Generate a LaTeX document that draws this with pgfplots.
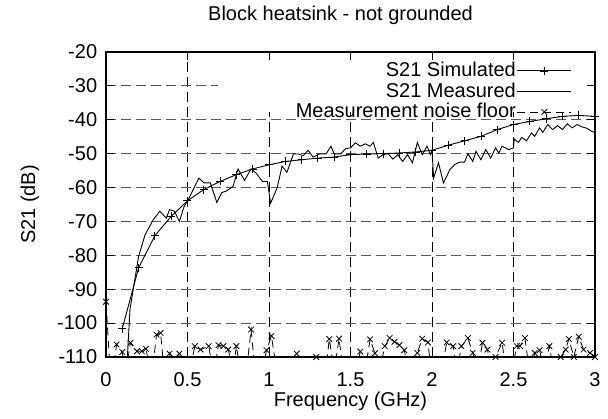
\documentclass[border=0pt]{standalone}
\usepackage{pgfplots}
\pgfplotsset{compat=1.18}
\usepackage{fontspec}
\setmainfont{Liberation Sans}
\begin{document}
\fontsize{20}{23}\selectfont
\begin{tikzpicture}
\begin{axis}[
  scale only axis, width=489pt, height=305pt,
  xmin=0, xmax=3, ymin=-110, ymax=-20,
  xtick={0,0.5,...,3}, ytick={-110,-100,...,-20},
  /pgf/number format/assume math mode=true,
  tick align=inside, major tick length=8pt,
  tick style={black, line width=0.8pt},
  axis line style={line width=1.6pt},
  xticklabel style={yshift=-9pt},
  yticklabel style={xshift=-2pt},
  grid=major,
  xmajorgrids=true, ymajorgrids=true,
  x grid style={black, line width=0.8pt, dash pattern=on 10pt off 5pt},
  y grid style={black!65, line width=0.9pt, dash pattern=on 10pt off 5pt},
  title={Block heatsink - not grounded},
  title style={at={(axis description cs:0.5,1)}, anchor=center, yshift=31pt, xshift=-10pt},
  xlabel={Frequency (GHz)},
  every axis x label/.style={at={(axis description cs:0.5,0)}, anchor=center, yshift=-44pt},
  ylabel={S21 (dB)},
  every axis y label/.style={at={(axis description cs:0,0.5)}, anchor=center, xshift=-76pt, rotate=90},
  clip mode=individual,
  legend style={at={(1,1)}, anchor=north east, xshift=-22pt, yshift=-8pt, fill=none, draw=none,
    inner sep=1pt, nodes={inner sep=1pt}, row sep=1pt},
  legend plot pos=right, legend cell align=right,
  legend image code/.code={\draw[mark repeat=2,mark phase=2,#1] plot coordinates {(0pt,0pt) (27pt,0pt) (54pt,0pt)};},
]
% key background (blanks the grid behind the legend, as gnuplot does)
\addplot[fill=white, draw=none, mark=none, forget plot] coordinates {(0.686,-22.4) (2.951,-22.4) (2.951,-37.6) (0.686,-37.6)};
% Simulated
\addplot[black, line width=0.9pt, mark=+, mark size=4pt, mark options={solid, line width=0.8pt}] coordinates {
(0.1,-101.6) (0.2,-83.7) (0.3,-74.2) (0.4,-68.5) (0.5,-63.9) (0.6,-60.6) (0.7,-58.2)
(0.8,-56.2) (0.9,-54.5) (1.0,-53.3) (1.1,-52.3) (1.2,-51.8) (1.3,-51.3) (1.4,-51.0)
(1.5,-50.3) (1.6,-50.1) (1.7,-50.0) (1.8,-49.8) (1.9,-49.5) (2.0,-49.0) (2.1,-47.5)
(2.2,-46.2) (2.3,-44.9) (2.4,-42.9) (2.5,-41.4) (2.6,-40.5) (2.7,-39.7) (2.8,-39.0)
(2.9,-38.7) (3.0,-39.0)};
\addlegendentry{S21 Simulated}
% Measured
\addplot[black, line width=0.9pt, mark=none] coordinates {
(0.12,-120) (0.147,-96) (0.2,-80.3) (0.24,-73.9) (0.29,-69.5) (0.33,-67) (0.37,-69)
(0.39,-66.5) (0.42,-67) (0.45,-70) (0.48,-65.5) (0.5,-64) (0.57,-57.2) (0.60,-58.6)
(0.64,-58.6) (0.68,-64.4) (0.71,-61.5) (0.74,-61) (0.78,-59.6) (0.81,-54.5) (0.85,-57.9)
(0.89,-54.5) (0.92,-55.7) (0.96,-58.2) (0.99,-58.2) (1.01,-64.6) (1.05,-60.1) (1.08,-53.7)
(1.11,-55.5) (1.15,-50.1) (1.18,-50.1) (1.21,-50.6) (1.24,-49) (1.27,-51) (1.31,-50.1)
(1.35,-50.1) (1.38,-47.8) (1.40,-50.1) (1.44,-50.1) (1.47,-48.5) (1.50,-48.3) (1.53,-46.8)
(1.56,-47.8) (1.59,-47.1) (1.62,-47.8) (1.64,-46.7) (1.67,-51.3) (1.70,-50.3) (1.73,-50)
(1.76,-51.6) (1.79,-50.3) (1.82,-52.3) (1.85,-50.3) (1.88,-52.7) (1.91,-46.7) (1.94,-50.3)
(1.97,-47.8) (1.99,-50.3) (2.00,-49) (2.01,-57.2) (2.04,-52.7) (2.07,-58.6) (2.11,-54.7)
(2.14,-53.2) (2.17,-52.5) (2.20,-52.5) (2.22,-50) (2.25,-52.3) (2.27,-49.3) (2.30,-51.8)
(2.33,-48.8) (2.36,-51.3) (2.39,-48.3) (2.41,-49.8) (2.43,-47.8) (2.47,-48.8) (2.50,-48.3)
(2.505,-45.7) (2.53,-46.7) (2.55,-45.2) (2.58,-46.2) (2.61,-43.9) (2.63,-44.9) (2.66,-42.4)
(2.68,-43.7) (2.71,-41.4) (2.74,-42.9) (2.77,-41.7) (2.80,-42.9) (2.83,-41.2) (2.86,-42.4)
(2.89,-41.4) (2.92,-42.1) (2.95,-42.5) (2.98,-43.4) (3.0,-43.8)};
\addlegendentry{S21 Measured}
% Noise floor
\pgfplotstableread{
x y
0 -93.7
0.03 -118
0.065 -106.3
0.10 -108.5
0.12 -115
0.15 -105.8
0.19 -108.3
0.22 -108.3
0.245 -107.6
0.28 -116
0.31 -103.4
0.335 -102.9
0.36 -116
0.39 -109
0.42 -116
0.45 -109
0.48 -117
0.51 -115
0.545 -106.8
0.58 -107.8
0.63 -106.8
0.66 -115
0.69 -106.5
0.72 -106.8
0.75 -107.8
0.78 -114
0.80 -106.8
0.83 -116
0.86 -115
0.89 -101.9
0.92 -117
0.95 -116
0.985 -108
1.015 -103.8
1.05 -115
1.08 -117
1.11 -116
1.14 -115
1.17 -109
1.20 -116
1.23 -117
1.26 -115
1.29 -110
1.32 -116
1.35 -113
1.37 -104.7
1.40 -114
1.43 -104.6
1.46 -116
1.49 -117
1.53 -115
1.56 -108.4
1.59 -114
1.62 -104.8
1.65 -108.9
1.68 -114
1.71 -106.8
1.74 -104.4
1.77 -105.5
1.80 -106.5
1.83 -108
1.86 -115
1.91 -108.8
1.94 -104.6
1.975 -105.7
2.0 -116
2.03 -117
2.06 -114
2.09 -105.7
2.13 -106.8
2.155 -114
2.18 -106.8
2.22 -104.4
2.25 -108.8
2.28 -114
2.31 -105.8
2.34 -107.8
2.37 -115
2.39 -110
2.43 -105.8
2.46 -116
2.49 -114
2.52 -106.8
2.54 -106.8
2.57 -104.4
2.60 -115
2.63 -108.8
2.66 -108
2.69 -114
2.72 -106.8
2.75 -115
2.79 -110
2.82 -107.8
2.84 -104.7
2.87 -110
2.90 -104
2.93 -107.8
2.97 -108.8
3.0 -110
}\noisetable
\addplot[black, line width=0.8pt, dash pattern=on 8pt off 5pt, mark=none, forget plot] table[x=x,y=y] {\noisetable};
\addplot[black, only marks, mark=x, mark size=4pt, mark options={solid, line width=0.8pt},
  restrict y to domain=-110.5:0, forget plot] table[x=x,y=y] {\noisetable};
\addlegendimage{black, line width=0.8pt, dash pattern=on 8pt off 5pt, mark=x, mark size=4pt, mark options={solid}}
\addlegendentry{Measurement noise floor}
\end{axis}
\pgfresetboundingbox
\path[use as bounding box] (current axis.south west) ++(-106pt,-62pt) rectangle ++(608pt,419pt);
\end{tikzpicture}
\end{document}
